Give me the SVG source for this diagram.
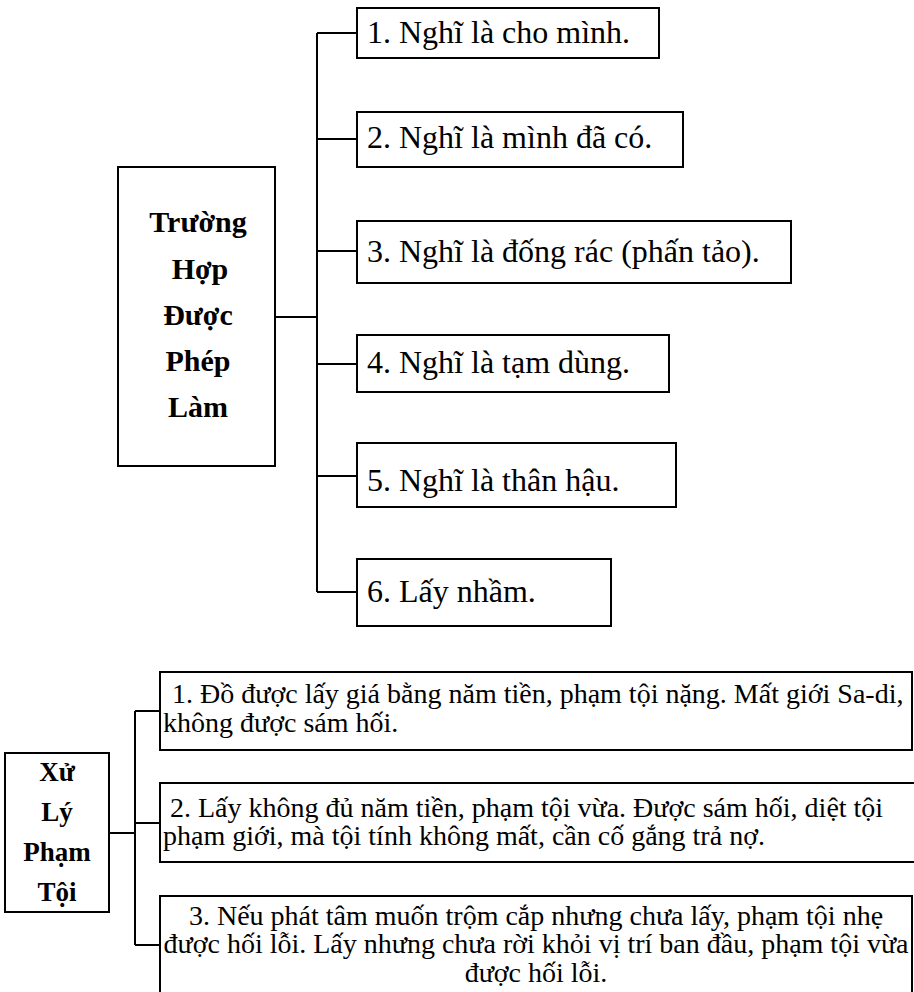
<svg xmlns="http://www.w3.org/2000/svg" width="914" height="992" viewBox="0 0 914 992">
  <style>
    .box { fill: #ffffff; stroke: #000000; stroke-width: 2; }
    .wire { fill: none; stroke: #000000; stroke-width: 2; }
    .head { font-family: "Liberation Serif", "Times New Roman", serif; font-weight: bold; fill: #000000; text-anchor: middle; }
    .big { font-size: 30px; }
    .small { font-size: 27px; }
    .item { font-family: "Liberation Serif", "Times New Roman", serif; font-size: 32px; fill: #000000; }
    .note { font-family: "Liberation Serif", "Times New Roman", serif; font-size: 28px; fill: #000000; }
    .mid { text-anchor: middle; }
  </style>

  <rect width="914" height="992" fill="#ffffff"/>

  <!-- connectors -->
  <g id="connectors">
    <path class="wire" d="M275 317 H317 M317 33 V592 M317 33 H357 M317 139 H357 M317 251 H357 M317 364 H357 M317 476 H357 M317 592 H357"/>
    <path class="wire" d="M109 833 H135 M135 711 V945 M135 711 H160 M135 823 H160 M135 945 H160"/>
  </g>

  <!-- upper tree: permitted cases -->
  <g id="permitted">
    <rect class="box" x="118" y="167" width="157" height="299"/>
    <text class="head big" x="198" y="232">Trường</text>
    <text class="head big" x="200" y="279">Hợp</text>
    <text class="head big" x="198" y="325">Được</text>
    <text class="head big" x="198" y="371">Phép</text>
    <text class="head big" x="198" y="417">Làm</text>
  </g>
  <g id="case1">
    <rect class="box" x="357" y="8" width="302" height="50"/>
    <text class="item" x="367" y="43">1. Nghĩ là cho mình.</text>
  </g>
  <g id="case2">
    <rect class="box" x="357" y="112" width="326" height="55"/>
    <text class="item" x="367" y="148">2. Nghĩ là mình đã có.</text>
  </g>
  <g id="case3">
    <rect class="box" x="357" y="221" width="434" height="62"/>
    <text class="item" x="367" y="262">3. Nghĩ là đống rác (phấn tảo).</text>
  </g>
  <g id="case4">
    <rect class="box" x="357" y="335" width="312" height="57"/>
    <text class="item" x="367" y="373">4. Nghĩ là tạm dùng.</text>
  </g>
  <g id="case5">
    <rect class="box" x="357" y="443" width="319" height="64"/>
    <text class="item" x="367" y="491">5. Nghĩ là thân hậu.</text>
  </g>
  <g id="case6">
    <rect class="box" x="357" y="559" width="254" height="67"/>
    <text class="item" x="367" y="602">6. Lấy nhầm.</text>
  </g>

  <!-- lower tree: handling offences -->
  <g id="handling">
    <rect class="box" x="5" y="753" width="104" height="159"/>
    <text class="head small" x="57" y="781">Xử</text>
    <text class="head small" x="57" y="821">Lý</text>
    <text class="head small" x="57" y="861">Phạm</text>
    <text class="head small" x="57" y="901">Tội</text>
  </g>
  <g id="level1">
    <rect class="box" x="160" y="672" width="752" height="78"/>
    <text class="note" x="172" y="703">1. Đồ được lấy giá bằng năm tiền, phạm tội nặng. Mất giới Sa-di,</text>
    <text class="note" x="163" y="732">không được sám hối.</text>
  </g>
  <g id="level2">
    <rect class="box" x="160" y="783" width="760" height="79"/>
    <text class="note" x="170" y="817">2. Lấy không đủ năm tiền, phạm tội vừa. Được sám hối, diệt tội</text>
    <text class="note" x="163" y="845">phạm giới, mà tội tính không mất, cần cố gắng trả nợ.</text>
  </g>
  <g id="level3">
    <rect class="box" x="160" y="896" width="752" height="110"/>
    <text class="note mid" x="536" y="925">3. Nếu phát tâm muốn trộm cắp nhưng chưa lấy, phạm tội nhẹ</text>
    <text class="note mid" x="536" y="953">được hối lỗi. Lấy nhưng chưa rời khỏi vị trí ban đầu, phạm tội vừa</text>
    <text class="note mid" x="536" y="982">được hối lỗi.</text>
  </g>
</svg>
